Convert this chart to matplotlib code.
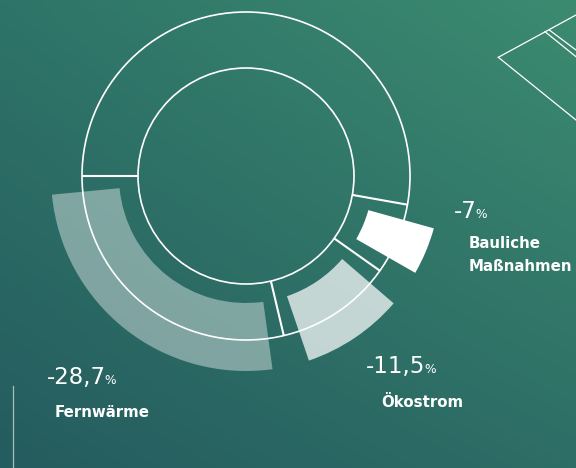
import numpy as np
import matplotlib
matplotlib.use("Agg")
import matplotlib.pyplot as plt
from matplotlib.patches import Wedge, Circle

# ---- data ----
categories = ["Fernwärme", "Ökostrom", "Bauliche\nMaßnahmen"]
shares = [28.7, 11.5, 7.0]
value_labels = ["-28,7", "-11,5", "-7"]
band_alpha = [0.40, 0.72, 1.0]

W, H = 576, 468
fig = plt.figure(figsize=(W / 100, H / 100), dpi=100)
ax = fig.add_axes([0, 0, 1, 1])
ax.set_xlim(0, W)
ax.set_ylim(0, H)
ax.axis("off")

# ---- background gradient ----
TL = np.array([46, 116, 104]) / 255
TR = np.array([60, 139, 112]) / 255
BL = np.array([37, 92, 95]) / 255
BR = np.array([45, 110, 102]) / 255
gx = np.linspace(0, 1, 200)[None, :, None]
gy = np.linspace(0, 1, 200)[:, None, None]  # 0 = top
top = TL * (1 - gx) + TR * gx
bot = BL * (1 - gx) + BR * gx
img = top * (1 - gy) + bot * gy
ax.imshow(img, extent=[0, W, 0, H], origin="upper", aspect="auto", zorder=0)

# ---- donut geometry ----
cx, cy = 246, H - 176
r_in, r_out = 108, 164
b_in, b_out = 127, 195
start = 180.0
pad = 5.5

bounds = start + 360 * np.concatenate([[0], np.cumsum(shares)]) / 100.0

# highlight bands
for i in range(len(shares)):
    t1, t2 = bounds[i] + pad, bounds[i + 1] - pad
    ax.add_patch(Wedge((cx, cy), b_out, t1, t2, width=b_out - b_in,
                       facecolor="white", alpha=band_alpha[i],
                       edgecolor="none", zorder=2))

# ring outline
lw = 1.2
ax.add_patch(Circle((cx, cy), r_out, fill=False, edgecolor="white", lw=lw, zorder=3))
ax.add_patch(Circle((cx, cy), r_in, fill=False, edgecolor="white", lw=lw, zorder=3))
for a in bounds:
    th = np.deg2rad(a)
    ax.plot([cx + r_in * np.cos(th), cx + r_out * np.cos(th)],
            [cy + r_in * np.sin(th), cy + r_out * np.sin(th)],
            color="white", lw=lw + 0.3, solid_capstyle="butt", zorder=3)

# ---- labels ----
num_pos = [(46.7, H - 384), (366, H - 373), (454, H - 218.3)]
lab_pos = [(55, H - 416.7), (381.7, H - 406.7), (468.3, H - 248.3)]
line_gap = 22.7  # px between label baselines

fig.canvas.draw()
renderer = fig.canvas.get_renderer()
inv = ax.transData.inverted()
for i in range(len(categories)):
    x, y = num_pos[i]
    t = ax.text(x, y, value_labels[i], color="white", fontsize=16.5,
                family="DejaVu Sans", ha="left", va="baseline", zorder=5)
    bb = t.get_window_extent(renderer=renderer)
    x1 = inv.transform((bb.x1, bb.y0))[0]
    ax.text(x1 - 1.0, y, "%", color="white", fontsize=8.8,
            family="DejaVu Sans", ha="left", va="baseline", zorder=5)
    lx, ly = lab_pos[i]
    for k, line in enumerate(categories[i].split("\n")):
        ax.text(lx, ly - k * line_gap, line, color="white", fontsize=10.8,
                fontweight="bold", family="DejaVu Sans", ha="left",
                va="baseline", zorder=5)

# ---- decorations ----
ax.plot([12.7, 12.7], [H - 386, 0], color="white", alpha=0.6, lw=0.9, zorder=4)
deco = [
    ([498.3, 576], [57.3, 15]),
    ([498.3, 576], [57.3, 120]),
    ([545, 576], [31.7, 56.7]),
    ([549.3, 576], [30, 50]),
]
for xs, ys in deco:
    ax.plot(xs, [H - v for v in ys], color="white", lw=0.9, zorder=4)

fig.savefig("out.png", dpi=100)
